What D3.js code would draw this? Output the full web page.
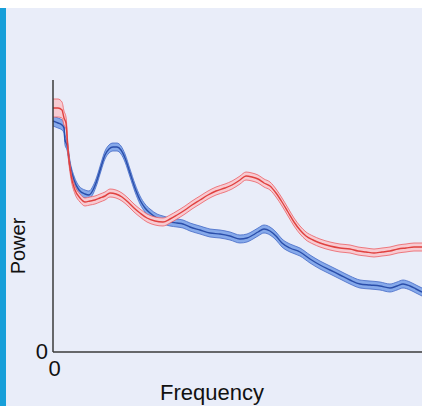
<!doctype html>
<html lang="en">
<head>
<meta charset="utf-8" />
<title>Power spectrum</title>
<script src="https://cdn.jsdelivr.net/npm/d3@7"></script>
<style>
	html, body { margin: 0; padding: 0; background: #fff; }
	svg { display: block; font-family: "Liberation Sans", Arial, sans-serif; }
</style>
</head>
<body>
<div id="chart"></div>
<script>
	// frequency (arbitrary units) and power values
	const blueFreq = [0, 5, 9, 11, 12, 14, 17, 21, 26, 32, 36, 40, 44, 48, 52, 56, 60, 64, 68, 72, 77, 82, 87, 92, 97, 104, 110, 117, 124, 130, 137, 147, 157, 167, 177, 187, 194, 200, 205, 211, 217, 223, 229, 237, 247, 257, 267, 277, 287, 297, 307, 317, 327, 337, 344, 350, 357, 363, 369];
	const bluePower = [231, 229, 227, 224, 212, 207, 187, 172, 162, 158, 157, 162, 172, 185, 197, 203, 205, 205, 202, 194, 179, 164, 152, 144, 139, 134, 132, 130, 129, 128, 125, 122, 119, 118, 116, 113, 114, 117, 120, 123, 121, 116, 109, 104, 100, 93, 87, 82, 77, 72, 68, 67, 66, 64, 66, 68, 66, 63, 60];
	const blueErr = [5, 5, 5, 5, 5, 5, 4, 4, 4, 4, 4, 4, 4, 4, 4, 4, 4, 4, 4, 4, 4, 4, 4, 4, 4, 4, 4, 4, 4, 4, 4, 4, 4, 4, 4, 4, 4, 4, 4, 4, 4, 4, 4, 4, 4, 4, 4, 4, 4, 4, 4, 4, 4, 4, 4, 4, 4, 4, 4];

	const redFreq = [0, 5, 9, 11, 13, 15, 18, 22, 27, 32, 37, 42, 47, 52, 57, 63, 69, 75, 81, 87, 94, 102, 110, 117, 124, 132, 139, 147, 155, 163, 172, 179, 187, 193, 199, 205, 211, 217, 223, 229, 235, 241, 247, 253, 260, 267, 277, 287, 297, 305, 313, 321, 329, 337, 345, 353, 361, 369];
	const redPower = [244, 244, 242, 234, 229, 202, 177, 162, 154, 150, 151, 152, 154, 156, 159, 158, 155, 150, 144, 139, 134, 131, 130, 133, 137, 142, 147, 152, 157, 161, 164, 167, 172, 176, 175, 173, 169, 166, 159, 150, 140, 130, 122, 116, 112, 109, 106, 104, 103, 101, 100, 99, 100, 101, 103, 104, 105, 105];
	const redErr = [9, 9, 8, 7, 6, 5, 4, 4, 4, 4, 4, 4, 4, 4, 4, 4, 4, 4, 4, 4, 4, 4, 4, 4, 4, 4, 4, 4, 4, 4, 4, 4, 4, 4, 4, 4, 4, 4, 4, 4, 4, 4, 4, 4, 4, 4, 4, 4, 4, 4, 4, 4, 4, 4, 4, 4, 4, 4];

	const xTicks = [0];
	const yTicks = [0];

	const W = 422, H = 406;
	const M = { left: 53, right: 0, top: 8, bottom: 54 };

	const svg = d3.select("#chart").append("svg").attr("width", W).attr("height", H);

	// page background, white top strip and blue side bar
	svg.append("rect").attr("width", W).attr("height", H).attr("fill", "#e9edf9");
	svg.append("rect").attr("width", W).attr("height", 8).attr("fill", "#ffffff");
	svg.append("rect").attr("x", 0).attr("y", 8).attr("width", 6).attr("height", H - 8).attr("fill", "#179fd9");

	const x = d3.scaleLinear().domain([0, 369]).range([M.left, W - M.right]);
	const y = d3.scaleLinear().domain([0, 272]).range([H - M.bottom, H - M.bottom - 272]);

	const series = [
		{ f: blueFreq, p: bluePower, e: blueErr, fill: "#86a9ea", edge: "#4469c6", line: "#2a4eaa" },
		{ f: redFreq, p: redPower, e: redErr, fill: "#f7cbd2", edge: "#ec5e63", line: "#e0413f" },
	];

	series.forEach((s) => {
		const rows = s.f.map((f, i) => ({ f, p: s.p[i], e: s.e[i] }));
		const area = d3.area().x((d) => x(d.f)).y0((d) => y(d.p - d.e)).y1((d) => y(d.p + d.e)).curve(d3.curveMonotoneX);
		const line = (acc) => d3.line().x((d) => x(d.f)).y((d) => y(acc(d))).curve(d3.curveMonotoneX);
		svg.append("path").datum(rows).attr("d", area).attr("fill", s.fill);
		svg.append("path").datum(rows).attr("d", line((d) => d.p + d.e)).attr("fill", "none").attr("stroke", s.edge).attr("stroke-width", 0.8);
		svg.append("path").datum(rows).attr("d", line((d) => d.p - d.e)).attr("fill", "none").attr("stroke", s.edge).attr("stroke-width", 0.8);
		svg.append("path").datum(rows).attr("d", line((d) => d.p)).attr("fill", "none").attr("stroke", s.line).attr("stroke-width", 1.4);
	});

	// axes
	const xAxis = svg.append("g").attr("transform", `translate(0,${y(0)})`)
		.call(d3.axisBottom(x).tickValues(xTicks).tickSize(0).tickPadding(8).tickFormat(d3.format("d")));
	xAxis.select(".domain").attr("stroke", "#3a3a3a").attr("stroke-width", 1.5).attr("d", `M${x(0)},0H${W}`);
	xAxis.selectAll("text").attr("fill", "#111").attr("font-size", 22).attr("dx", 1).attr("font-family", "Liberation Sans, Arial, sans-serif");

	const yAxis = svg.append("g").attr("transform", `translate(${x(0)},0)`)
		.call(d3.axisLeft(y).tickValues(yTicks).tickSize(0).tickPadding(5).tickFormat(d3.format("d")));
	yAxis.select(".domain").attr("stroke", "#3a3a3a").attr("stroke-width", 1.5).attr("d", `M0,${y(272)}V${y(0)}`);
	yAxis.selectAll("text").attr("fill", "#111").attr("font-size", 22).attr("dy", "0.3em").attr("font-family", "Liberation Sans, Arial, sans-serif");

	svg.append("text").attr("transform", `translate(25,246) rotate(-90)`).attr("text-anchor", "middle")
		.attr("font-size", 20).attr("fill", "#111").text("Power");
	svg.append("text").attr("x", 212).attr("y", 400).attr("text-anchor", "middle")
		.attr("font-size", 22).attr("fill", "#111").text("Frequency");
</script>
</body>
</html>
